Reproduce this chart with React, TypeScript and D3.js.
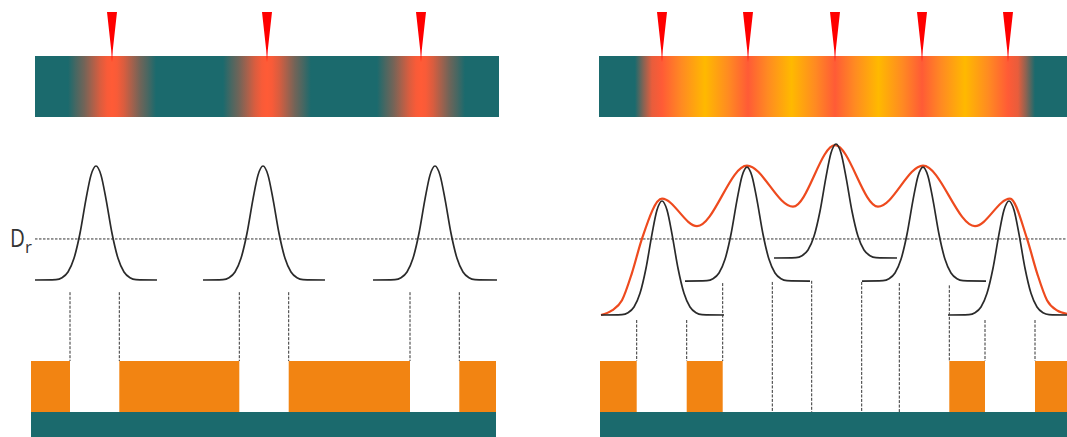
import React from 'react';
import * as d3 from 'd3';

const W = 1067;
const H = 437;

// Laser pulse positions (red markers) for the two scanning cases
const leftPulseMarks = [112, 267, 421];
const rightPulseMarks = [662, 748, 835, 922, 1008];

// Single-pulse dose profiles: centre, extent of baseline, baseline offset (dose units)
const leftPeakCenters = [96, 263, 435];
const leftPeakFrom = [35, 203, 373];
const leftPeakTo = [157, 325, 497];
const leftPeakBase = [0.307, 0.307, 0.307];

const rightPeakCenters = [662, 747, 836, 923, 1009];
const rightPeakFrom = [601, 685, 774, 862, 948];
const rightPeakTo = [724, 810, 897, 986, 1067];
const rightPeakBase = [0, 0.298, 0.5, 0.298, 0];

// Shape of one pulse (offset from centre, relative amplitude)
const pulseDx = [-40, -34, -28, -22, -16, -10, -5, 0, 5, 10, 16, 22, 28, 34, 40];
const pulseAmp = [0.004, 0.02, 0.07, 0.19, 0.41, 0.71, 0.92, 1, 0.92, 0.71, 0.41, 0.19, 0.07, 0.02, 0.004];

// Accumulated dose envelope (orange curve)
const envelopeX = [601, 612, 622, 632, 642, 662, 697, 747, 793, 835, 878, 923, 975, 1010, 1027, 1037, 1047, 1057, 1067];
const envelopeDose = [0, 0.04, 0.13, 0.37, 0.67, 1.02, 0.78, 1.31, 0.95, 1.49, 0.95, 1.31, 0.78, 1.02, 0.67, 0.37, 0.13, 0.04, 0.01];

// Threshold dose D_r
const doseThreshold = 0.667;

// Dashed projection lines: x position, top (dose units) and where they stop
const leftCutX = [70, 119.3, 239.3, 288.7, 410, 459.3];
const leftCutTop = [0.2, 0.2, 0.2, 0.2, 0.2, 0.2];
const leftCutTo = ['film', 'film', 'film', 'film', 'film', 'film'];
const rightCutX = [636.7, 686.7, 722.7, 772.3, 811.7, 861.7, 899.3, 949.3, 985, 1035];
const rightCutTop = [-0.044, -0.044, 0.28, 0.29, 0.3, 0.29, 0.28, 0.26, -0.044, -0.044];
const rightCutTo = ['film', 'film', 'film', 'substrate', 'substrate', 'substrate', 'substrate', 'film', 'film', 'film'];

// Remaining film (orange blocks) and substrate
const leftFilmStart = [31, 119.3, 288.7, 459.3];
const leftFilmEnd = [70, 239.3, 410, 496];
const rightFilmStart = [600, 686.7, 949.3, 1035];
const rightFilmEnd = [636.7, 722.7, 985, 1067];
const leftSubstrate = [31, 496];
const rightSubstrate = [600, 1067];
const leftBar = [35, 499];
const rightBar = [599, 1067];

const TEAL = '#1b6a6d';
const FILM = '#f28412';
const HOT = '#ff5b36';
const YELLOW = '#ffb900';

const x = d3.scaleLinear().domain([0, W]).range([0, W]);
const yDose = d3.scaleLinear().domain([0, 1]).range([315, 201]);

const BAR_TOP = 56;
const BAR_BOTTOM = 117;
const FILM_TOP = 361;
const SUB_TOP = 412;

function pulsePath(c: number, from: number, to: number, base: number) {
  const pts: [number, number][] = [[from, base]];
  pulseDx.forEach((dx, i) => pts.push([c + dx, base + pulseAmp[i]]));
  pts.push([to, base]);
  const line = d3
    .line<[number, number]>()
    .x((d) => x(d[0]))
    .y((d) => yDose(d[1]))
    .curve(d3.curveMonotoneX);
  return line(pts) || '';
}

function leftStops() {
  const stops: { o: number; c: string }[] = [];
  const [a, b] = leftBar;
  const mix = d3.interpolateRgb(TEAL, HOT);
  stops.push({ o: 0, c: TEAL });
  leftPulseMarks.forEach((m) => {
    [-44, -36, -28, -20, -12, -5, 0, 5, 12, 20, 28, 36, 44].forEach((dx) => {
      const t = Math.exp(-(dx * dx) / (2 * 20 * 20));
      const tt = Math.abs(dx) >= 44 ? 0 : t;
      stops.push({ o: (m + dx - a) / (b - a), c: mix(tt) });
    });
  });
  stops.push({ o: 1, c: TEAL });
  return stops;
}

function rightStops() {
  const stops: { o: number; c: string }[] = [];
  const [a, b] = rightBar;
  const o = (v: number) => (v - a) / (b - a);
  const tealHot = d3.interpolateRgb(TEAL, HOT);
  stops.push({ o: 0, c: TEAL });
  const first = rightPulseMarks[0];
  const last = rightPulseMarks[rightPulseMarks.length - 1];
  stops.push({ o: o(first - 27), c: TEAL });
  stops.push({ o: o(first - 18), c: tealHot(0.5) });
  stops.push({ o: o(first - 10), c: tealHot(0.9) });
  rightPulseMarks.forEach((m, i) => {
    stops.push({ o: o(m), c: HOT });
    if (i < rightPulseMarks.length - 1) {
      const n = rightPulseMarks[i + 1];
      const mid = (m + n) / 2;
      stops.push({ o: o(m + (mid - m) * 0.45), c: '#ff8a22' });
      stops.push({ o: o(mid), c: YELLOW });
      stops.push({ o: o(mid + (n - mid) * 0.55), c: '#ff8a22' });
    }
  });
  stops.push({ o: o(last + 10), c: tealHot(0.9) });
  stops.push({ o: o(last + 18), c: tealHot(0.5) });
  stops.push({ o: o(last + 27), c: TEAL });
  stops.push({ o: 1, c: TEAL });
  return stops;
}

function Marker({ c }: { c: number }) {
  const cx = x(c);
  return <path d={`M${cx - 5},12 L${cx + 5},12 L${cx + 0.8},50 L${cx},62 L${cx - 0.8},50 Z`} fill="#ff0000" />;
}

export default function App() {
  const envLine = d3
    .line<number>()
    .x((d) => x(d))
    .y((_, i) => yDose(envelopeDose[i]))
    .curve(d3.curveMonotoneX);

  const cutY = (top: number) => yDose(top);
  const cutBottom = (to: string) => (to === 'film' ? FILM_TOP : SUB_TOP);

  return (
    <svg
      width={W}
      height={H}
      style={{ position: 'absolute', left: 0, top: 0, background: '#fff' }}
      fontFamily="'Open Sans', 'Liberation Sans', sans-serif"
    >
      <defs>
        <linearGradient id="gl" gradientUnits="userSpaceOnUse" x1={x(leftBar[0])} x2={x(leftBar[1])} y1={0} y2={0}>
          {leftStops().map((s, i) => (
            <stop key={i} offset={Math.max(0, Math.min(1, s.o))} stopColor={s.c} />
          ))}
        </linearGradient>
        <linearGradient id="gr" gradientUnits="userSpaceOnUse" x1={x(rightBar[0])} x2={x(rightBar[1])} y1={0} y2={0}>
          {rightStops().map((s, i) => (
            <stop key={i} offset={Math.max(0, Math.min(1, s.o))} stopColor={s.c} />
          ))}
        </linearGradient>
      </defs>

      {/* top heated bars */}
      <rect x={x(leftBar[0])} y={BAR_TOP} width={x(leftBar[1]) - x(leftBar[0])} height={BAR_BOTTOM - BAR_TOP} fill="url(#gl)" />
      <rect x={x(rightBar[0])} y={BAR_TOP} width={x(rightBar[1]) - x(rightBar[0])} height={BAR_BOTTOM - BAR_TOP} fill="url(#gr)" />

      {leftPulseMarks.map((m, i) => (
        <Marker key={'lm' + i} c={m} />
      ))}
      {rightPulseMarks.map((m, i) => (
        <Marker key={'rm' + i} c={m} />
      ))}

      {/* threshold line */}
      <line x1={35} x2={W} y1={yDose(doseThreshold)} y2={yDose(doseThreshold)} stroke="#333" strokeWidth={1} strokeDasharray="2.5,1.5" />
      <text x={10} y={247} fontSize={25} fill="#333" transform="translate(10,0) scale(0.82,1) translate(-10,0)">
        D
      </text>
      <text x={25} y={253} fontSize={17} fill="#333">
        r
      </text>

      {/* envelope */}
      <path d={envLine(envelopeX) || ''} fill="none" stroke="#ee4a1e" strokeWidth={2.2} />

      {/* pulses */}
      {leftPeakCenters.map((c, i) => (
        <path key={'lp' + i} d={pulsePath(c, leftPeakFrom[i], leftPeakTo[i], leftPeakBase[i])} fill="none" stroke="#2a2a2a" strokeWidth={1.7} />
      ))}
      {rightPeakCenters.map((c, i) => (
        <path key={'rp' + i} d={pulsePath(c, rightPeakFrom[i], rightPeakTo[i], rightPeakBase[i])} fill="none" stroke="#2a2a2a" strokeWidth={1.7} />
      ))}

      {/* projection lines */}
      {leftCutX.map((cx, i) => (
        <line key={'lc' + i} x1={x(cx)} x2={x(cx)} y1={cutY(leftCutTop[i]) - 0} y2={cutBottom(leftCutTo[i])} stroke="#333" strokeWidth={1} strokeDasharray="3,1.5" />
      ))}
      {rightCutX.map((cx, i) => (
        <line key={'rc' + i} x1={x(cx)} x2={x(cx)} y1={cutY(rightCutTop[i])} y2={cutBottom(rightCutTo[i])} stroke="#333" strokeWidth={1} strokeDasharray="3,1.5" />
      ))}

      {/* film and substrate */}
      {leftFilmStart.map((s, i) => (
        <rect key={'lf' + i} x={x(s)} y={FILM_TOP} width={x(leftFilmEnd[i]) - x(s)} height={SUB_TOP - FILM_TOP} fill={FILM} />
      ))}
      {rightFilmStart.map((s, i) => (
        <rect key={'rf' + i} x={x(s)} y={FILM_TOP} width={x(rightFilmEnd[i]) - x(s)} height={SUB_TOP - FILM_TOP} fill={FILM} />
      ))}
      <rect x={x(leftSubstrate[0])} y={SUB_TOP} width={x(leftSubstrate[1]) - x(leftSubstrate[0])} height={H - SUB_TOP} fill={TEAL} />
      <rect x={x(rightSubstrate[0])} y={SUB_TOP} width={x(rightSubstrate[1]) - x(rightSubstrate[0])} height={H - SUB_TOP} fill={TEAL} />
    </svg>
  );
}
